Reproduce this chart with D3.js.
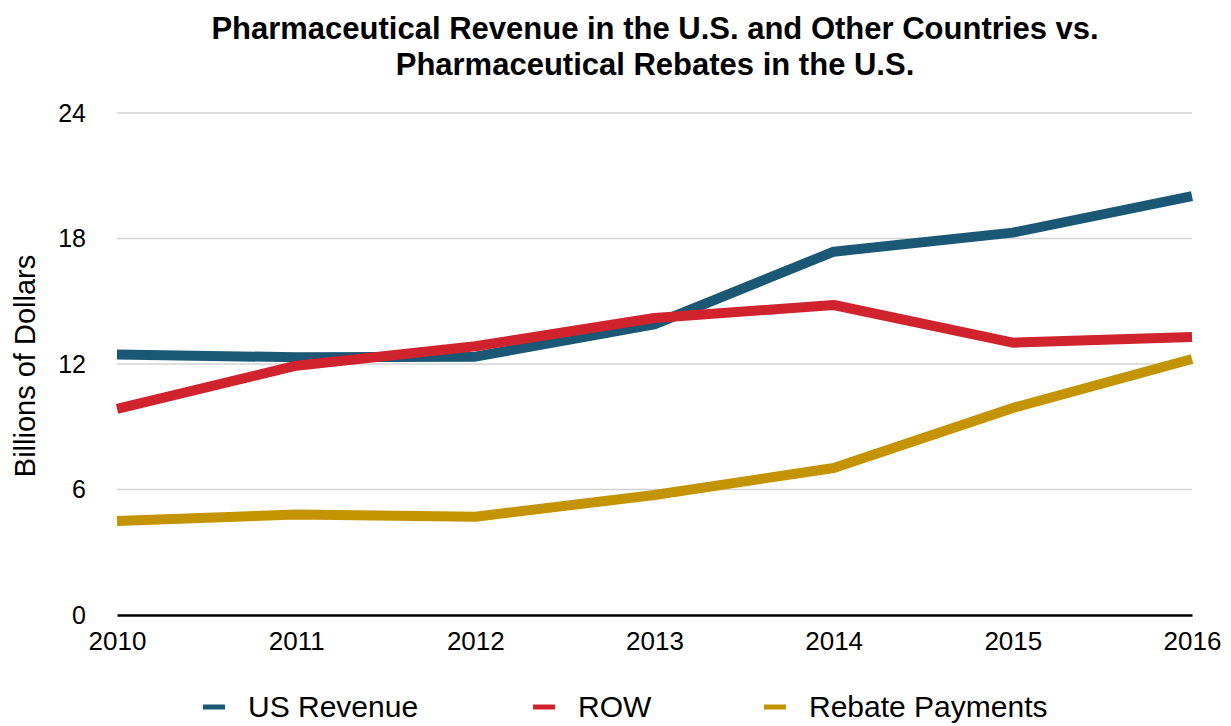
<!DOCTYPE html>
<html>
<head>
<meta charset="utf-8">
<script src="https://cdn.jsdelivr.net/npm/d3@7"></script>
<style>
  body { margin: 0; background: #fff; }
  svg { font-family: "Liberation Sans", Arial, Helvetica, sans-serif; }
</style>
</head>
<body>
<div id="chart"></div>
<script>
var years = [2010, 2011, 2012, 2013, 2014, 2015, 2016];
var usRevenue = [12.46, 12.32, 12.35, 13.9, 17.37, 18.28, 20.03];
var row = [9.85, 11.92, 12.85, 14.2, 14.82, 13.02, 13.29];
var rebatePayments = [4.49, 4.81, 4.7, 5.74, 7.03, 9.9, 12.24];
var yTicks = [0, 6, 12, 18, 24];

var seriesNames = ["US Revenue", "ROW", "Rebate Payments"];
var seriesColors = ["#1a5876", "#d0232d", "#c49300"];
var seriesValues = [usRevenue, row, rebatePayments];

var totalW = 1231, totalH = 726;
var margin = { top: 113, right: 39, bottom: 111, left: 117 };
var width = totalW - margin.left - margin.right;
var height = totalH - margin.top - margin.bottom;

var svg = d3.select("#chart").append("svg")
    .attr("width", totalW)
    .attr("height", totalH);

var x = d3.scaleLinear().domain([2010, 2016]).range([0, width]);
var y = d3.scaleLinear().domain([0, 24]).range([height, 0]);

var g = svg.append("g")
    .attr("transform", "translate(" + margin.left + "," + margin.top + ")");

// gridlines
g.append("g")
    .selectAll("line")
    .data(yTicks.filter(function(d) { return d > 0; }))
    .enter().append("line")
    .attr("x1", 0)
    .attr("x2", width)
    .attr("y1", function(d) { return y(d); })
    .attr("y2", function(d) { return y(d); })
    .style("stroke", "#d3d3d3")
    .style("stroke-width", 1.5);

// y axis labels
var yAxis = g.append("g")
    .call(d3.axisLeft(y).tickValues(yTicks).tickSize(0).tickPadding(31));
yAxis.select(".domain").remove();
yAxis.selectAll("text")
    .style("font-size", "25px")
    .style("fill", "#000")
    .attr("font-family", null);

// x axis
var xAxis = g.append("g")
    .attr("transform", "translate(0," + height + ")")
    .call(d3.axisBottom(x).tickValues(years).tickFormat(d3.format("d")).tickSize(0).tickPadding(17));
xAxis.select(".domain")
    .style("stroke", "#000")
    .style("stroke-width", 2.5);
xAxis.selectAll("text")
    .style("font-size", "26px")
    .style("fill", "#000")
    .attr("font-family", null);

// lines
var line = d3.line()
    .x(function(d, i) { return x(years[i]); })
    .y(function(d) { return y(d); });

g.selectAll(".series")
    .data(seriesValues)
    .enter().append("path")
    .attr("class", "series")
    .attr("d", line)
    .style("fill", "none")
    .style("stroke", function(d, i) { return seriesColors[i]; })
    .style("stroke-width", 10)
    .style("stroke-linejoin", "round");

// title
var title = svg.append("text")
    .attr("x", 655)
    .attr("y", 39)
    .attr("text-anchor", "middle")
    .style("font-size", "31px")
    .style("font-weight", "bold");
title.append("tspan").attr("x", 655).text("Pharmaceutical Revenue in the U.S. and Other Countries vs.");
title.append("tspan").attr("x", 655).attr("dy", 36).text("Pharmaceutical Rebates in the U.S.");

// y axis title
svg.append("text")
    .attr("transform", "translate(35," + 366 + ") rotate(-90)")
    .attr("text-anchor", "middle")
    .style("font-size", "29px")
    .text("Billions of Dollars");

// legend
var legendX = [203, 533, 764];
var legend = svg.selectAll(".legend")
    .data(seriesNames)
    .enter().append("g")
    .attr("class", "legend")
    .attr("transform", function(d, i) { return "translate(" + legendX[i] + ",707)"; });

legend.append("line")
    .attr("x1", 0)
    .attr("x2", 22)
    .attr("y1", 0)
    .attr("y2", 0)
    .style("stroke", function(d, i) { return seriesColors[i]; })
    .style("stroke-width", 5);

legend.append("text")
    .attr("x", 45)
    .attr("y", 10)
    .style("font-size", "30px")
    .text(function(d) { return d; });
</script>
</body>
</html>
